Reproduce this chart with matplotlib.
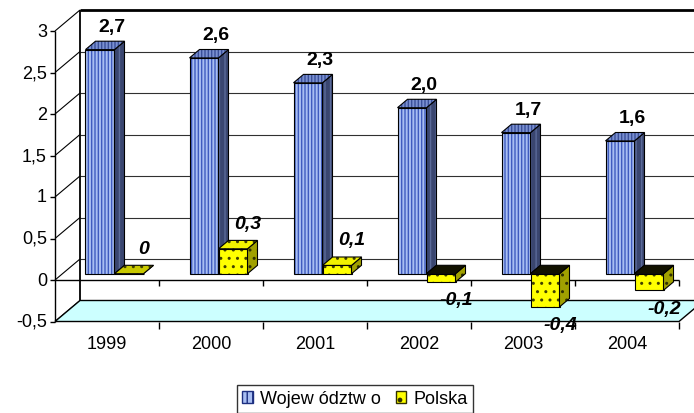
import matplotlib
matplotlib.use('Agg')
import matplotlib.pyplot as plt
import numpy as np
from matplotlib.patches import Polygon, Patch

years = ['1999', '2000', '2001', '2002', '2003', '2004']
wojewodztwo = [2.7, 2.6, 2.3, 2.0, 1.7, 1.6]
polska = [0.0, 0.3, 0.1, -0.1, -0.4, -0.2]
yticks = [-0.5, 0, 0.5, 1, 1.5, 2, 2.5, 3]
series_names = ['Wojew ództw o', 'Polska']

plt.rcParams['font.family'] = ['Liberation Sans', 'DejaVu Sans']
plt.rcParams['hatch.linewidth'] = 1.0

W, H = 694, 414
fig = plt.figure(figsize=(W / 100, H / 100), dpi=100)
ax = fig.add_axes([0, 0, 1, 1])
ax.axis('off')

# one category = 104 px, one unit = 83 px
PX, PY = 1 / 104, 1 / 83
ax.set_xlim(-0.5 - 55 * PX, -0.5 + (W - 55) * PX)
ax.set_ylim(-(H - 281) * PY, 281 * PY)

DX, DY = 25 * PX, 21 * PY  # front -> back wall offset
n = len(years)
xl, xr = -0.5, n - 0.5
ymin, ymax = yticks[0], yticks[-1]


def proj(x, y, d):
    return (x + d * DX, y + d * DY)


def face(pts, fc, hc='none', hatch=None, z=4, lw=0.8):
    ax.add_patch(Polygon(pts, closed=True, facecolor=fc, edgecolor=hc,
                         hatch=hatch, lw=0, zorder=z))
    if lw > 0:
        ax.add_patch(Polygon(pts, closed=True, fill=False, edgecolor='black',
                             lw=lw, zorder=z))


def line(p, q, **kw):
    ax.plot([p[0], q[0]], [p[1], q[1]], solid_capstyle='butt', **kw)


# back wall gridlines + borders
far = xr + 1
for v in yticks[1:-1]:
    line(proj(xl, v, 1), proj(far, v, 1), color='#303030', lw=0.8, zorder=1)
line(proj(xl, ymax, 1), proj(far, ymax, 1), color='black', lw=2, zorder=1)
line(proj(xl, ymin, 1), proj(xl, ymax, 1), color='black', lw=1.3, zorder=1)

# left wall
for v in yticks:
    line(proj(xl, v, 0), proj(xl, v, 1), color='black', lw=0.8, zorder=1)

# floor
face([proj(xl, ymin, 0), proj(xr, ymin, 0), proj(xr, ymin, 1), proj(xl, ymin, 1)],
     '#ccffff', z=2, lw=1.0)

# value axis
line((xl, ymin), (xl, ymax), color='black', lw=1.0, zorder=3)
for v in yticks:
    line((xl - 5 * PX, v), (xl, v), color='black', lw=1.0, zorder=3)
    lab = ('%g' % v).replace('.', ',')
    ax.text(xl - 8 * PX, v, lab, ha='right', va='center', fontsize=13)

# category axis at 0 and floor ticks
line((xl, 0), (xr, 0), color='black', lw=1.0, zorder=3)
for k in range(1, n + 1):
    line((xl + k, 0), (xl + k, -6 * PY), color='black', lw=1.0, zorder=3)
    line((xl + k, ymin), (xl + k, ymin - 7 * PY), color='black', lw=1.0, zorder=3)
for i, yr in enumerate(years):
    ax.text(i, ymin - 22 * PY, yr, ha='center', va='center', fontsize=13)

# bars
bw = 29 * PX
d0, d1 = 0.3, 0.7
xc = np.arange(n) + d0 * DX
base = d0 * DY

styles = [
    dict(front=('#a8bef2', '#3f5bbf', '|||||'), side=('#3a4670', '#5a6a99', '|||'),
         top=('#7a90d0', '#3a4f99', '|||||'), z=4),
    dict(front=('#ffff00', '#404000', '..'), side=('#a0a000', '#303000', '..'),
         top=('#f2f200', '#404000', '..'), z=5),
]

for k, vals in enumerate([wojewodztwo, polska]):
    st = styles[k]
    lefts = xc - bw if k == 0 else xc
    fc, hc, hatch = st['front']
    ax.bar(lefts, vals, width=bw, bottom=base, align='edge', facecolor=fc,
           edgecolor=hc, hatch=hatch, linewidth=0, zorder=st['z'])
    ax.bar(lefts, vals, width=bw, bottom=base, align='edge', fill=False,
           edgecolor='black', linewidth=0.8, zorder=st['z'])
    for x0, v in zip(lefts, vals):
        x1 = x0 + bw
        lo, hi = min(0, v), max(0, v)
        # side face
        sfc, shc, sh = st['side']
        face([(x1, base + lo), (x1, base + hi), (x1 + (d1 - d0) * DX, base + hi + (d1 - d0) * DY),
              (x1 + (d1 - d0) * DX, base + lo + (d1 - d0) * DY)], sfc, shc, sh, z=st['z'])
        # top face
        tfc, thc, th = st['top']
        if v < 0:
            tfc, thc, th = '#111100', 'none', None
        elif v == 0 and k == 1:
            tfc = '#c8c800'
        face([(x0, base + hi), (x1, base + hi), (x1 + (d1 - d0) * DX, base + hi + (d1 - d0) * DY),
              (x0 + (d1 - d0) * DX, base + hi + (d1 - d0) * DY)], tfc, thc, th, z=st['z'])

# value labels
for i in range(n):
    v = wojewodztwo[i]
    ax.text(xc[i] - bw / 2 + 12 * PX, v + d1 * DY + 15 * PY,
            ('%.1f' % v).replace('.', ','), ha='center', va='center',
            fontsize=14, fontweight='bold')
    v = polska[i]
    lab = ('%g' % v).replace('.', ',') if v == 0 else ('%.1f' % v).replace('.', ',')
    if v >= 0:
        y = v + d1 * DY + 17 * PY
    else:
        y = base + v - 18 * PY
    ax.text(xc[i] + bw / 2 + 15 * PX, y, lab, ha='center', va='center',
            fontsize=14, fontweight='bold', fontstyle='italic')

handles = [Patch(facecolor='#a8bef2', edgecolor='#1c2f80', hatch='|||'),
           Patch(facecolor='#ffff00', edgecolor='#303000', hatch='.')]
leg = ax.legend(handles, series_names, loc='center', bbox_to_anchor=(355 / W, 1 - 400 / H),
                ncol=2, fontsize=13, frameon=True, fancybox=False, shadow=False,
                handlelength=0.6, handleheight=0.6, handletextpad=0.4,
                columnspacing=0.8, borderpad=0.3, borderaxespad=0)
leg.get_frame().set_edgecolor('black')
leg.get_frame().set_linewidth(1.0)

plt.savefig('out.png', dpi=100)
